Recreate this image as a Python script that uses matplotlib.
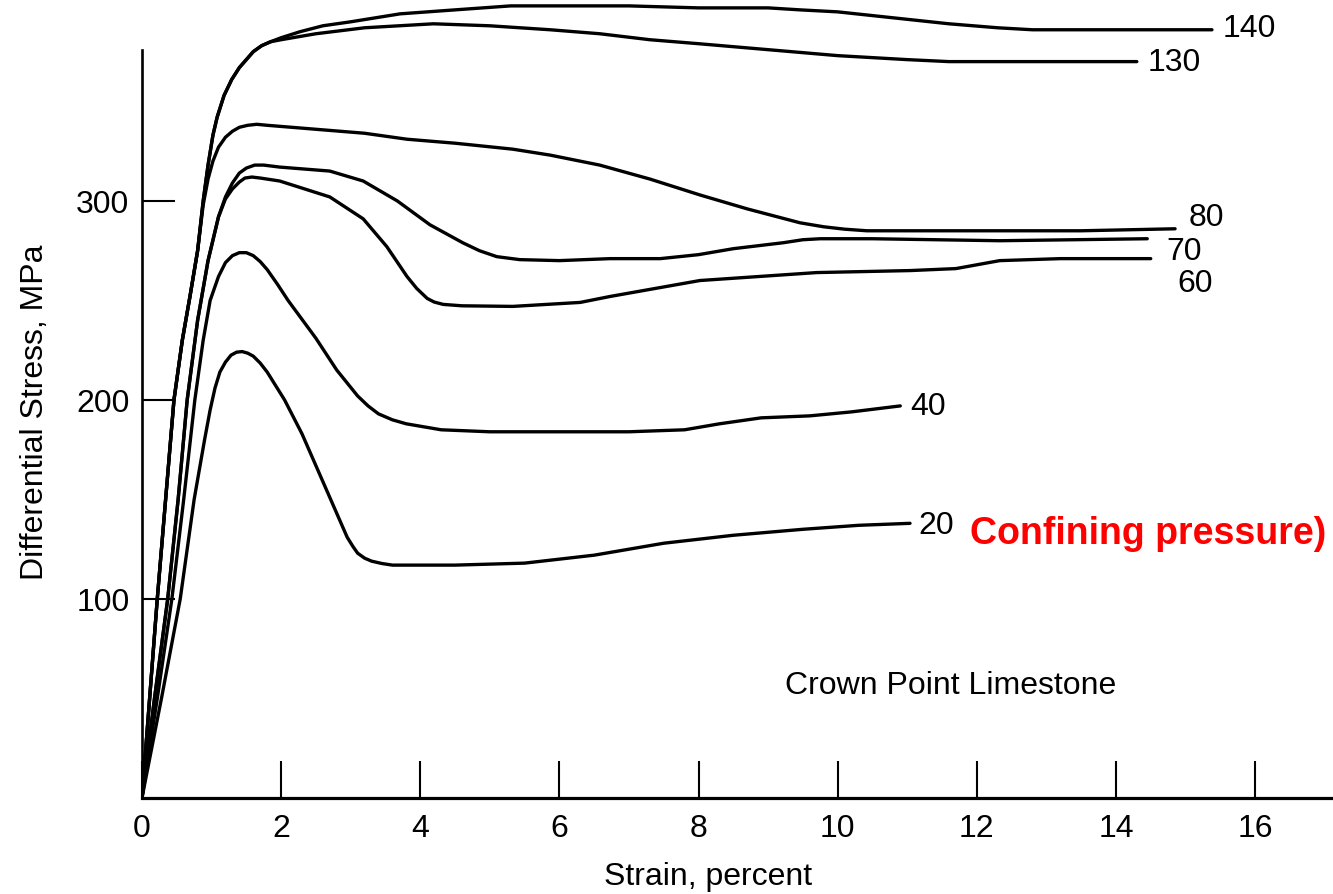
import matplotlib
matplotlib.use("Agg")
import matplotlib.pyplot as plt

plt.rcParams['font.family'] = ['Liberation Sans', 'DejaVu Sans']

# confining pressure (MPa) -> (strain %, differential stress MPa)
pressures = ["140", "130", "80", "70", "60", "40", "20"]

rise_steep_x = [0, 0.11, 0.22, 0.34, 0.46, 0.58, 0.69, 0.80, 0.88, 0.95, 1.02, 1.08, 1.18, 1.29, 1.40, 1.50, 1.60, 1.72, 1.85]
rise_steep_y = [0, 50, 100, 150, 200, 230, 252, 275, 300, 318, 333, 342, 353, 361, 367, 371, 375, 378, 380]

x140 = rise_steep_x + [2.0, 2.27, 2.6, 3.0, 3.71, 4.5, 5.3, 6.0, 7.0, 8.0, 9.0, 9.46, 10.0, 10.8, 11.6, 12.3, 12.8, 14.0, 15.38]
y140 = rise_steep_y + [382, 385, 388, 390, 394, 396, 398, 398, 398, 397, 397, 396, 395, 392, 389, 387, 386, 386, 386]

x130 = rise_steep_x + [2.0, 2.5, 3.2, 4.19, 5.0, 5.87, 6.58, 7.3, 8.0, 9.0, 10.0, 11.0, 11.6, 12.5, 14.3]
y130 = rise_steep_y + [381, 384, 387, 389, 388, 386, 384, 381, 379, 376, 373, 371, 370, 370, 370]

x80 = [0, 0.11, 0.22, 0.34, 0.46, 0.58, 0.69, 0.80, 0.88, 0.95, 1.02, 1.10, 1.20, 1.30, 1.40, 1.52, 1.65, 1.8,
       2.5, 3.2, 3.81, 4.5, 5.33, 5.87, 6.58, 7.3, 8.02, 8.7, 9.46, 9.8, 10.1, 10.42, 11.0, 12.33, 13.5, 14.85]
y80 = [0, 50, 100, 150, 200, 230, 252, 275, 298, 311, 320, 327, 332, 335, 337, 338, 338.5, 338,
       336, 334, 331, 329, 326, 323, 318, 311, 303, 296, 289, 287, 285.8, 285, 285, 285, 285, 286]

x70 = [0, 0.18, 0.37, 0.52, 0.65, 0.80, 0.95, 1.1, 1.2, 1.3, 1.4, 1.5, 1.62, 1.75, 1.98, 2.7, 3.18, 3.67, 4.14,
       4.61, 4.85, 5.10, 5.43, 6.0, 6.73, 7.45, 8.0, 8.5, 9.22, 9.5, 9.75, 10.5, 12.33, 14.45]
y70 = [0, 50, 100, 150, 200, 240, 270, 292, 302, 309, 314, 316.5, 318, 318, 317, 315, 310, 300, 288,
       279, 275, 272, 270.5, 270, 271, 271, 273, 276, 279, 280.5, 281, 281, 280, 281]

x60 = [0, 0.18, 0.37, 0.52, 0.65, 0.80, 0.95, 1.1, 1.2, 1.3, 1.4, 1.48, 1.58, 1.7, 1.98, 2.7, 3.18, 3.52, 3.81,
       3.95, 4.10, 4.2, 4.33, 4.6, 5.33, 6.30, 6.73, 8.02, 9.70, 11.04, 11.7, 12.33, 13.2, 14.5]
y60 = [0, 50, 100, 150, 200, 240, 270, 292, 301, 306, 309.5, 311.5, 312, 311.5, 310, 302, 291, 277, 262,
       256, 251, 249.2, 248, 247.3, 247, 249, 252, 260, 264, 265, 266, 270, 271, 271]

x40 = [0, 0.22, 0.43, 0.60, 0.76, 0.88, 0.98, 1.10, 1.20, 1.30, 1.40, 1.50, 1.60, 1.70, 1.80, 1.95, 2.10, 2.50, 2.80,
       3.10, 3.25, 3.40, 3.60, 3.80, 4.30, 5.0, 6.0, 7.0, 7.8, 8.3, 8.9, 9.6, 10.2, 10.9]
y40 = [0, 50, 100, 150, 200, 230, 250, 262, 269, 272.5, 274, 274, 272.5, 269.5, 265.5, 258, 250, 231, 215,
       202, 197, 193, 190, 188, 185, 184, 184, 184, 185, 188, 191, 192, 194, 197]

x20 = [0, 0.28, 0.55, 0.75, 0.90, 0.98, 1.05, 1.12, 1.20, 1.28, 1.36, 1.44, 1.52, 1.60, 1.70, 1.80, 2.05, 2.30, 2.55,
       2.75, 2.95, 3.03, 3.10, 3.20, 3.30, 3.45, 3.60, 4.5, 5.5, 6.5, 7.5, 8.5, 9.5, 10.3, 11.04]
y20 = [0, 50, 100, 150, 180, 195, 206, 214, 219, 222.5, 224, 224.3, 223.5, 222, 218.5, 214, 200, 183, 163,
       147, 131, 126.5, 123, 120.5, 119, 117.8, 117, 117, 118, 122, 128, 132, 135, 137, 138]

curves_x = [x140, x130, x80, x70, x60, x40, x20]
curves_y = [y140, y130, y80, y70, y60, y40, y20]

# label offsets from curve end (strain, MPa)
label_dx = [0.15, 0.16, 0.19, 0.28, 0.38, 0.14, 0.12]
label_dy = [1, 0, 6, -6, -12, 0, -1]

xticks = [0, 2, 4, 6, 8, 10, 12, 14, 16]
yticks = [100, 200, 300]

fig = plt.figure(figsize=(13.33, 8.95), dpi=100)
ax = fig.add_axes([0.1065, 0.1073, 0.8935, 0.8939])

for cx, cy in zip(curves_x, curves_y):
    ax.plot(cx, cy, color='black', lw=2.4, solid_joinstyle='round', solid_capstyle='round')

for name, cx, cy, dx, dy in zip(pressures, curves_x, curves_y, label_dx, label_dy):
    ax.text(cx[-1] + dx, cy[-1] + dy, name, fontsize=23, ha='left', va='center')

ax.text(11.62, 57, "Crown Point Limestone", fontsize=23, ha='center', va='center')
ax.text(11.9, 133, "Confining pressure)", fontsize=27, fontweight='bold',
        color='red', ha='left', va='center')

ax.set_xlim(0, 17.12)
ax.set_ylim(0, 402)
ax.spines['top'].set_visible(False)
ax.spines['right'].set_visible(False)
ax.spines['left'].set_bounds(0, 376)
ax.spines['left'].set_linewidth(1.9)
ax.spines['bottom'].set_linewidth(2.3)

ax.set_xticks(xticks)
ax.set_xticklabels([str(t) for t in xticks])
ax.set_yticks(yticks)
ax.set_yticklabels([str(t) for t in yticks])
ax.tick_params(axis='x', direction='in', length=27, width=1.5, labelsize=23, pad=11)
ax.tick_params(axis='y', direction='in', length=24, width=1.5, labelsize=23, pad=9)

ax.set_xlabel("Strain, percent", fontsize=23, va='center')
ax.xaxis.set_label_coords(0.475, -0.0975)
ax.set_ylabel("Differential Stress, MPa", fontsize=23, va='center')
ax.yaxis.set_label_coords(-0.0898, 0.483)

fig.savefig("out.png", dpi=100)
